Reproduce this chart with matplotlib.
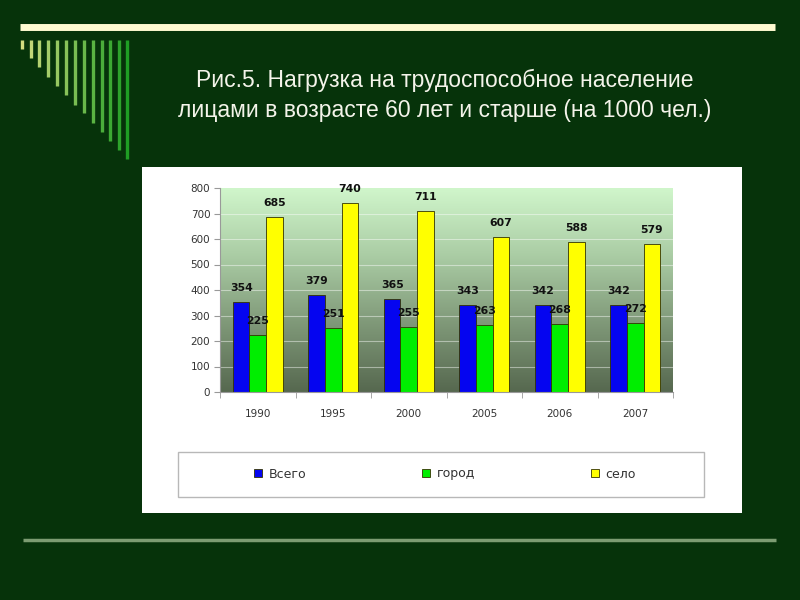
import matplotlib.pyplot as plt
import numpy as np
from matplotlib.patches import Rectangle
from matplotlib.lines import Line2D
from matplotlib.colors import LinearSegmentedColormap
from matplotlib import font_manager

years = ["1990", "1995", "2000", "2005", "2006", "2007"]
vsego = [354, 379, 365, 343, 342, 342]
gorod = [225, 251, 255, 263, 268, 272]
selo = [685, 740, 711, 607, 588, 579]
series_names = ["Всего", "город", "село"]

W, H = 800, 600
BG = "#06330a"

# pick regular-width Liberation Sans (not Narrow)
title_font = None
for f in font_manager.fontManager.ttflist:
    if f.name == "Liberation Sans" and f.style == "normal" and f.weight in (400, "normal") \
            and "Narrow" not in f.fname:
        title_font = font_manager.FontProperties(fname=f.fname, size=16.5)
        break
if title_font is None:
    title_font = font_manager.FontProperties(family="DejaVu Sans", size=15)

fig = plt.figure(figsize=(8, 6), dpi=100)
fig.patch.set_facecolor(BG)


def fx(px):
    return px / W


def fy(py):
    return 1 - py / H


# slide decoration: top cream line
fig.add_artist(Line2D([fx(20), fx(775)], [fy(26.5), fy(26.5)], color="#fffbd2", lw=5, solid_capstyle="butt"))
# bottom line
fig.add_artist(Line2D([fx(23), fx(776)], [fy(540), fy(540)], color="#7c9c72", lw=2.5, solid_capstyle="butt"))

# vertical stripes (decoration)
stripe_x = [21.7, 30.7, 39.3, 48.3, 57.3, 66.3, 75, 84, 92.7, 101.7, 110, 119, 127.3]
stripe_bottom = [49, 58, 67, 77, 86, 95, 105, 113, 123, 132, 141, 150, 159]
c0 = np.array([0.82, 0.86, 0.50])
c1 = np.array([0.12, 0.62, 0.14])
for i, (sx, sb) in enumerate(zip(stripe_x, stripe_bottom)):
    t = i / (len(stripe_x) - 1)
    col = c0 * (1 - t) + c1 * t
    fig.add_artist(Line2D([fx(sx), fx(sx)], [fy(40), fy(sb)], color=col, lw=2.4, solid_capstyle="butt"))

# title
fig.text(fx(445), fy(80), "Рис.5. Нагрузка на трудоспособное население", color="#f4f4ea",
         fontproperties=title_font, ha="center", va="center")
fig.text(fx(445), fy(110), "лицами в возрасте 60 лет и старше (на 1000 чел.)", color="#f4f4ea",
         fontproperties=title_font, ha="center", va="center")

# white chart box
fig.add_artist(Rectangle((fx(142), fy(513)), fx(742) - fx(142), fy(167) - fy(513),
                         transform=fig.transFigure, facecolor="white", edgecolor="none", zorder=0))

# legend frame
fig.add_artist(Rectangle((fx(178), fy(497)), fx(704) - fx(178), fy(452) - fy(497),
                         transform=fig.transFigure, facecolor="white", edgecolor="#b8b8b8", lw=1, zorder=1))

ax = fig.add_axes([fx(220), fy(392), fx(673) - fx(220), fy(188) - fy(392)])

# gradient background of plot area
grad = np.linspace(0, 1, 256).reshape(-1, 1)
cmap = LinearSegmentedColormap.from_list("bg", ["#d0f6cb", "#aacca4", "#7f9878", "#56684f"])
ax.imshow(grad, extent=[-0.5, 5.5, 0, 800], aspect="auto", cmap=cmap, origin="upper", zorder=0)

for v in range(100, 800, 100):
    ax.axhline(v, color="white", lw=0.8, alpha=0.45, zorder=1)

x = np.arange(len(years))
w = 0.22
colors = ["#0505f0", "#00ee00", "#ffff00"]
handles = []
for k, (vals, col, name) in enumerate(zip([vsego, gorod, selo], colors, series_names)):
    bars = ax.bar(x + (k - 1) * w, vals, w, color=col, edgecolor="#333300", lw=0.6, zorder=2, label=name)
    handles.append(bars)
    for xi, v in zip(x + (k - 1) * w, vals):
        ax.annotate(str(v), (xi, v), xytext=(0, 10), textcoords="offset points", ha="center", va="center",
                    fontsize=7.8, fontweight="bold", color="#111111", zorder=3)

ax.set_xlim(-0.5, 5.5)
ax.set_ylim(0, 800)
ax.set_yticks(range(0, 801, 100))
ax.set_xticks(x)
ax.set_xticklabels(years)
ax.set_xticks(np.arange(-0.5, 6, 1), minor=True)
ax.tick_params(axis="x", which="major", length=0, pad=12, labelsize=7.5, labelcolor="#333333")
ax.tick_params(axis="x", which="minor", length=4, color="#999999")
ax.tick_params(axis="y", length=4, color="#999999", labelsize=7.5, labelcolor="#333333", pad=3)
for s in ["top", "right"]:
    ax.spines[s].set_visible(False)
for s in ["left", "bottom"]:
    ax.spines[s].set_color("#999999")
    ax.spines[s].set_linewidth(0.8)

leg = fig.legend(handles=handles, labels=series_names, loc="center", ncol=3,
                 bbox_to_anchor=(fx(445), fy(474)), frameon=False, fontsize=9,
                 handlelength=0.65, handleheight=0.65, handletextpad=0.5, columnspacing=9.3)
for t in leg.get_texts():
    t.set_color("#333333")

fig.savefig("out.png", dpi=100, facecolor=BG)
